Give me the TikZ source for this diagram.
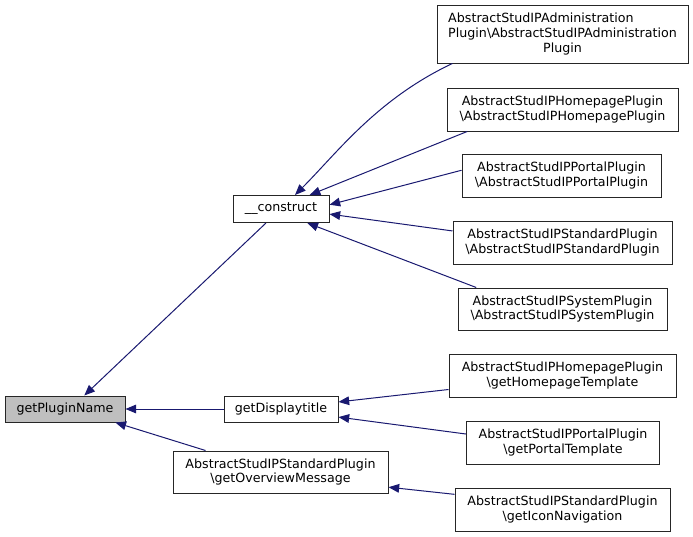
\documentclass[tikz,border=0pt]{standalone}
\usepackage{fontspec}
\setmainfont{DejaVu Sans}
\usepackage{tikz}
\usetikzlibrary{arrows.meta}
\definecolor{edgeblue}{HTML}{191970}
\tikzset{%
  fnnode/.style   = {shape=rectangle, draw=black!85, line width=0.75pt,%
                     fill=white, align=center, inner sep=0pt,%
                     font=\fontsize{9.5}{11}\selectfont},%
  rootnode/.style = {fnnode, fill=black!25},%
  boxsize/.style 2 args = {minimum width=#1*0.75pt, minimum height=#2*0.75pt},%
  calledge/.style = {draw=edgeblue, line width=0.75pt,%
                     -{Triangle[length=8pt,width=6.5pt]}}%
}
\newcommand{\bs}{\textbackslash}

\begin{document}
\begin{tikzpicture}[x=0.75pt,y=-0.75pt]
	\useasboundingbox (0,0) rectangle (693,536);
	% left column
	\node[rootnode,boxsize={120}{26}] (pname) at (65,409) {getPluginName};
	% middle column
	\node[fnnode,boxsize={96}{27}] (construct) at (281,209) {\_\_construct};
	\node[fnnode,boxsize={114}{26}] (dtitle) at (281,409) {getDisplaytitle};
	\node[fnnode,boxsize={215}{42}] (overview) at (280.5,472)
		{AbstractStudIPStandardPlugin\\\bs getOverviewMessage};
	% right column
	\node[fnnode,boxsize={251}{58}] (admin) at (562.5,34)
		{AbstractStudIPAdministration\hphantom{Plugin\bs}\\Plugin\bs AbstractStudIPAdministration\\Plugin};
	\node[fnnode,boxsize={231}{43}] (homepage) at (562.5,109.5)
		{AbstractStudIPHomepagePlugin\\\bs AbstractStudIPHomepagePlugin};
	\node[fnnode,boxsize={199}{43}] (portal) at (561.5,175.5)
		{AbstractStudIPPortalPlugin\\\bs AbstractStudIPPortalPlugin};
	\node[fnnode,boxsize={219}{43}] (standard) at (562.5,242.5)
		{AbstractStudIPStandardPlugin\\\bs AbstractStudIPStandardPlugin};
	\node[fnnode,boxsize={209}{42}] (system) at (562.5,309)
		{AbstractStudIPSystemPlugin\\\bs AbstractStudIPSystemPlugin};
	\node[fnnode,boxsize={227}{43}] (hptemplate) at (562.5,375.5)
		{AbstractStudIPHomepagePlugin\\\bs getHomepageTemplate};
	\node[fnnode,boxsize={193}{43}] (ptemplate) at (563,442.5)
		{AbstractStudIPPortalPlugin\\\bs getPortalTemplate};
	\node[fnnode,boxsize={215}{43}] (iconnav) at (562.5,509.5)
		{AbstractStudIPStandardPlugin\\\bs getIconNavigation};
	% calls
	\draw[calledge] (construct.223) -- (pname.35);
	\draw[calledge] (dtitle.west) -- (pname.east);
	\draw[calledge] (overview.164) -- (pname.345);
	\draw[calledge] (admin.195) .. controls (377,99) and (337,153) .. (construct.45);
	\draw[calledge] (homepage.193) -- (construct.26);
	\draw[calledge] (portal.177) -- (construct.5);
	\draw[calledge] (standard.174) -- (construct.354);
	\draw[calledge] (system.166) -- (construct.332);
	\draw[calledge] (hptemplate.187) -- (dtitle.7);
	\draw[calledge] (ptemplate.175) -- (dtitle.352);
	\draw[calledge] (iconnav.172) -- (overview.352);
\end{tikzpicture}
\end{document}
